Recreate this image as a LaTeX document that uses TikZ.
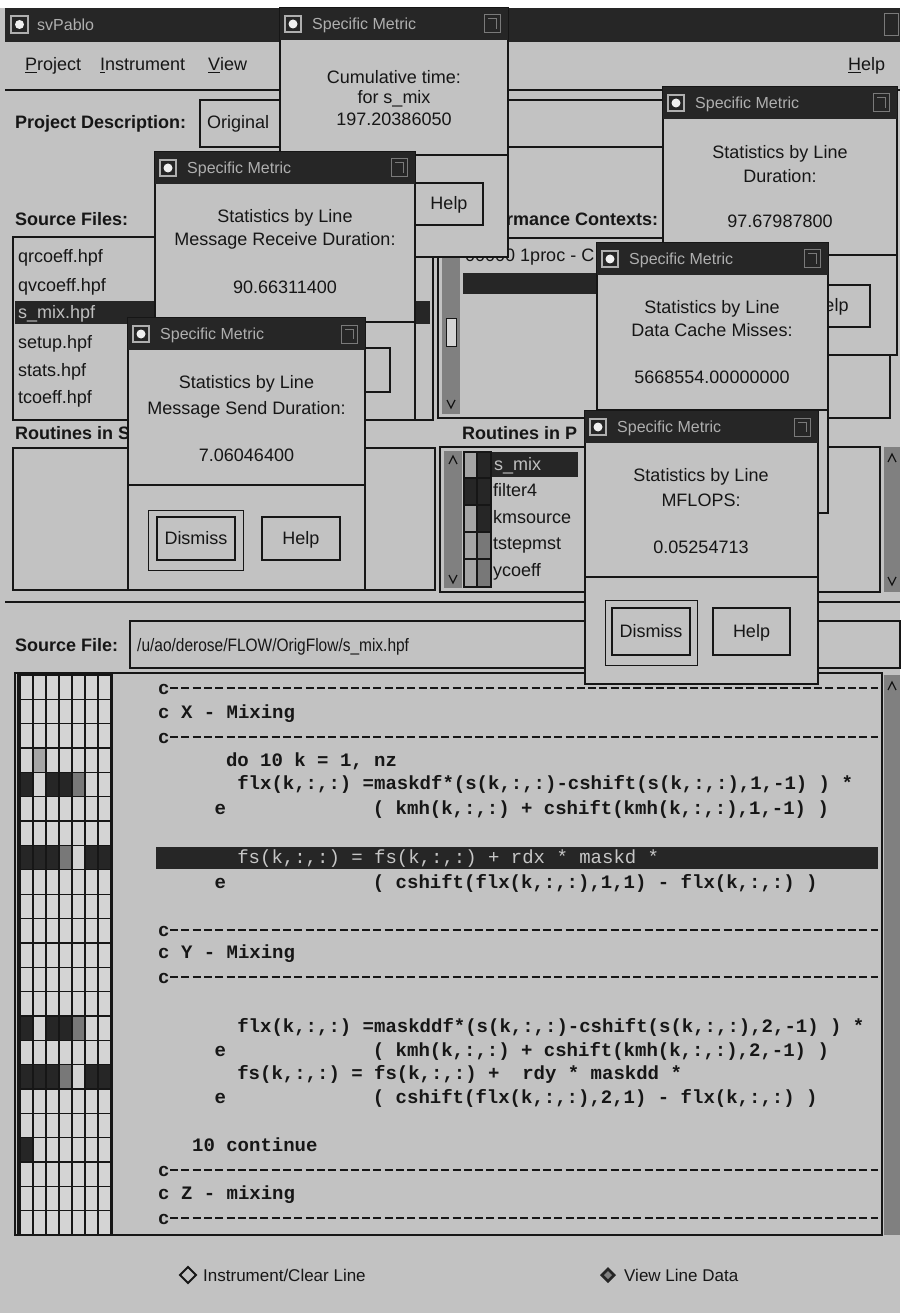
\documentclass[tikz,border=0pt]{standalone}
\usepackage{fontspec}
\setmainfont{Liberation Sans}
\setmonofont{Liberation Mono}
\newfontfamily\uinarrow[FakeStretch=0.86]{Liberation Sans}
\definecolor{bg}{RGB}{194,194,194}
\definecolor{bgl}{RGB}{212,212,212}
\definecolor{tb}{RGB}{38,38,38}
\definecolor{ink}{RGB}{22,22,22}
\definecolor{ttl}{RGB}{175,175,175}
\definecolor{sb}{RGB}{128,128,128}
\definecolor{midg}{RGB}{120,120,120}
\definecolor{lightg}{RGB}{165,165,165}

\tikzset{
  ui/.style={font=\fontsize{18}{20}\selectfont, text=ink, inner sep=0pt},
  lbl/.style={font=\fontsize{18}{20}\selectfont\bfseries, text=ink, inner sep=0pt, anchor=base west},
  code/.style={font=\fontsize{19}{21}\selectfont\ttfamily\bfseries, text=ink, inner sep=0pt, anchor=base west},
  faint/.style={font=\fontsize{19}{21}\selectfont\ttfamily, text=gray!45, inner sep=0pt, anchor=base west},
  bx/.style={draw=ink, line width=2pt},
  winbox/.style={draw=ink, line width=2pt, fill=bg},
  tbar/.style={fill=tb},
  ttltext/.style={font=\fontsize{16}{18}\selectfont, text=ttl, inner sep=0pt, anchor=west},
  selbar/.style={fill=tb},
  seltext/.style={font=\fontsize{18}{20}\selectfont, text=gray!50, inner sep=0pt, anchor=base west},
  btnbox/.style={draw=ink, line width=2.2pt},
  dashln/.style={draw=ink, line width=1.8pt, dash pattern=on 8pt off 3.3pt},
  cellbox/.style={draw=ink, line width=1.3pt},
}

% Specific Metric window: #1 name, #2 x1, #3 y1, #4 x2, #5 y2, #6 separator y
\newcommand{\SMwin}[6]{%
  \draw[winbox] (#2,#3) rectangle (#4,#5);
  \fill[tbar] (#2,#3) rectangle (#4,#3+32);
  \draw[ttl, line width=1.2pt] (#2+5,#3+8) rectangle (#2+21,#3+24);
  \fill[white!88!gray] (#2+13,#3+16) circle (4.5pt);
  \node[ttltext] (#1t) at (#2+32,#3+17) {Specific Metric};
  \draw[ttl!70!black, line width=1pt] (#4-24,#3+7) rectangle (#4-8,#3+25);
  \draw[ttl!70!black, line width=1pt] (#4-20,#3+11) -- (#4-12,#3+11) -- (#4-12,#3+21);
  \draw[ink, line width=2pt] (#2,#6) -- (#4,#6);
}
% button: #1 name, #2 x1, #3 y1, #4 x2, #5 y2, #6 text
\newcommand{\UIbtn}[6]{%
  \draw[btnbox] (#2,#3) rectangle (#4,#5);
  \node[ui, anchor=base] (#1) at ({(#2+#4)/2},{(#3+#5)/2+6}) {#6};
}
% default button frame
\newcommand{\DefFrame}[4]{%
  \draw[ink, line width=1pt] (#1,#2) rectangle (#3,#4);
}
% grid cell: #1 row, #2 col, #3 colour
\newcommand{\GridCell}[3]{%
  \draw[cellbox, fill=#3] ({20+13*#2},{675+24.35*#1}) rectangle ++(13,24.35);
}

\begin{document}
\begin{tikzpicture}[x=1pt,y=-1pt]
\useasboundingbox (0,0) rectangle (900,1313);
\fill[white] (0,0) rectangle (900,1313);
\fill[bg] (0,8) rectangle (900,1313);

% ---------- main window title bar ----------
\fill[tbar] (5,8) rectangle (900,42);
\draw[ttl, line width=1.2pt] (11,16) rectangle (28,33);
\fill[white!88!gray] (19.5,24.5) circle (4.5pt);
\node[ttltext] (apptitle) at (37,25) {svPablo};
\draw[ttl!70!black, line width=1pt] (884,14) rectangle (898,36);

% ---------- menu ----------
\node[ui, anchor=base west] (mproj) at (25,71) {\underline{P}roject};
\node[ui, anchor=base west] (minst) at (100,71) {\underline{I}nstrument};
\node[ui, anchor=base west] (mview) at (208,71) {\underline{V}iew};
\node[ui, anchor=base west] (mhelp) at (848,71) {\underline{H}elp};
\draw[ink, line width=2.5pt] (5,90) -- (900,90);

% ---------- project description ----------
\node[lbl] (pdl) at (15,129) {Project Description:};
\draw[bx] (200,100) rectangle (890,147);
\node[ui, anchor=base west] (pdv) at (207,129) {Original};

% ---------- source files ----------
\node[lbl] (sfl) at (15,226) {Source Files:};
\draw[bx] (13,237) rectangle (433,420);
\node[ui, anchor=base west] (f1) at (18,263) {qrcoeff.hpf};
\node[ui, anchor=base west] (f2) at (18,291) {qvcoeff.hpf};
\fill[selbar] (15,301) rectangle (430,324);
\node[seltext] (f3) at (18,319) {s\_mix.hpf};
\node[ui, anchor=base west] (f4) at (18,348) {setup.hpf};
\node[ui, anchor=base west] (f5) at (18,376) {stats.hpf};
\node[ui, anchor=base west] (f6) at (18,403) {tcoeff.hpf};

% ---------- performance contexts ----------
\node[lbl] (pcl) at (460,226) {Performance Contexts:};
\draw[bx] (438,238) rectangle (890,418);
\fill[sb] (442,242) rectangle (460,414);
\draw[ink, line width=1pt, fill=bgl] (446,318) rectangle (456,346);
\draw[ink, line width=1.2pt] (447,400) -- (451,408) -- (455,400);
\node[ui, anchor=base west] (pc1) at (465,262) {00000 1proc - C};
\fill[selbar] (463,273) rectangle (600,294);

% ---------- routines in source file ----------
\node[lbl] (rsl) at (15,439) {Routines in Source File:};
\draw[bx] (13,448) rectangle (435,590);

% ---------- routines in procedure ----------
\node[lbl] (rpl) at (462,439) {Routines in P};
\draw[bx] (440,447) rectangle (880,592);
\fill[sb] (444,451) rectangle (462,588);
\draw[ink, line width=1.2pt] (449,464) -- (453,456) -- (457,464);
\draw[ink, line width=1.2pt] (449,575) -- (453,583) -- (457,575);
% colour cells
\draw[cellbox, fill=lightg] (464,452) rectangle (477,478);
\draw[cellbox, fill=tb] (477,452) rectangle (491,478);
\draw[cellbox, fill=tb] (464,478) rectangle (477,505);
\draw[cellbox, fill=tb] (477,478) rectangle (491,505);
\draw[cellbox, fill=lightg] (464,505) rectangle (477,532);
\draw[cellbox, fill=tb] (477,505) rectangle (491,532);
\draw[cellbox, fill=lightg] (464,532) rectangle (477,559);
\draw[cellbox, fill=midg] (477,532) rectangle (491,559);
\draw[cellbox, fill=lightg] (464,559) rectangle (477,587);
\draw[cellbox, fill=midg] (477,559) rectangle (491,587);
\fill[selbar] (492,452) rectangle (578,477);
\node[seltext] (r1) at (494,470) {s\_mix};
\node[ui, anchor=base west] (r2) at (493,496) {filter4};
\node[ui, anchor=base west] (r3) at (493,523) {kmsource};
\node[ui, anchor=base west] (r4) at (493,549) {tstepmst};
\node[ui, anchor=base west] (r5) at (493,576) {ycoeff};
\fill[sb] (884,447) rectangle (900,592);
\draw[ink, line width=1.2pt] (888,462) -- (892,454) -- (896,462);
\draw[ink, line width=1.2pt] (888,577) -- (892,585) -- (896,577);

\draw[ink, line width=2pt] (5,602) -- (900,602);

% ---------- source file ----------
\node[lbl] (srcl) at (15,651) {Source File:};
\draw[bx] (130,621) rectangle (900,668);
\node[ui, anchor=base west, font=\fontsize{18}{20}\selectfont\uinarrow] (srcv) at (137,651) {/u/ao/derose/FLOW/OrigFlow/s\_mix.hpf};

% ---------- source display ----------
\draw[ink, line width=2.5pt, fill=bg] (15,673) rectangle (882,1235);
\fill[sb] (884,675) rectangle (900,1235);
\draw[ink, line width=1.2pt] (888,690) -- (892,682) -- (896,690);
\foreach \r in {0,...,22}{
  \foreach \c in {0,...,6}{
    \GridCell{\r}{\c}{bgl}
  }
}
\GridCell{3}{1}{lightg}
\GridCell{4}{0}{tb}\GridCell{4}{2}{tb}\GridCell{4}{3}{tb}\GridCell{4}{4}{midg}
\GridCell{7}{0}{tb}\GridCell{7}{1}{tb}\GridCell{7}{2}{tb}\GridCell{7}{3}{midg}\GridCell{7}{5}{tb}\GridCell{7}{6}{tb}
\GridCell{14}{0}{tb}\GridCell{14}{2}{tb}\GridCell{14}{3}{tb}\GridCell{14}{4}{midg}
\GridCell{16}{0}{tb}\GridCell{16}{1}{tb}\GridCell{16}{2}{tb}\GridCell{16}{3}{midg}\GridCell{16}{5}{tb}\GridCell{16}{6}{tb}
\GridCell{19}{0}{tb}
\draw[ink, line width=2.5pt] (18,673) rectangle (112,1235);

% code lines (column n at x = 158 + 11.3 n)
\node[code] (c1) at (158,694) {c};
\draw[dashln] (170,688) -- (878,688);
\node[code] (c2) at (158,718) {c X - Mixing};
\node[code] (c3) at (158,743) {c};
\draw[dashln] (170,737) -- (878,737);
\node[code] (c4) at (225.8,766) {do 10 k = 1, nz};
\node[code] (c5) at (237.1,789) {flx(k,:,:) =maskdf*(s(k,:,:)-cshift(s(k,:,:),1,-1) ) *};
\node[code] (c6e) at (214.5,814) {e};
\node[code] (c6) at (372.7,814) {( kmh(k,:,:) + cshift(kmh(k,:,:),1,-1) )};
\fill[selbar] (156,847) rectangle (878,869);
\node[faint] (c7) at (237.1,863) {fs(k,:,:) = fs(k,:,:) + rdx * maskd *};
\node[code] (c8e) at (214.5,888) {e};
\node[code] (c8) at (372.7,888) {( cshift(flx(k,:,:),1,1) - flx(k,:,:) )};
\node[code] (c9) at (158,936) {c};
\draw[dashln] (170,930) -- (878,930);
\node[code] (c10) at (158,958) {c Y - Mixing};
\node[code] (c11) at (158,983) {c};
\draw[dashln] (170,977) -- (878,977);
\node[code] (c12) at (237.1,1032) {flx(k,:,:) =maskddf*(s(k,:,:)-cshift(s(k,:,:),2,-1) ) *};
\node[code] (c13e) at (214.5,1056) {e};
\node[code] (c13) at (372.7,1056) {( kmh(k,:,:) + cshift(kmh(k,:,:),2,-1) )};
\node[code] (c14) at (237.1,1079) {fs(k,:,:) = fs(k,:,:) +\ \ rdy * maskdd *};
\node[code] (c15e) at (214.5,1103) {e};
\node[code] (c15) at (372.7,1103) {( cshift(flx(k,:,:),2,1) - flx(k,:,:) )};
\node[code] (c16) at (191.9,1151) {10 continue};
\node[code] (c17) at (158,1176) {c};
\draw[dashln] (170,1170) -- (878,1170);
\node[code] (c18) at (158,1199) {c Z - mixing};
\node[code] (c19) at (158,1224) {c};
\draw[dashln] (170,1218) -- (878,1218);

% ---------- bottom radio buttons ----------
\draw[ink, line width=2pt] (180,1275) -- (188,1267) -- (196,1275) -- (188,1283) -- cycle;
\node[ui, anchor=base west, font=\fontsize{17}{19}\selectfont] (rb1) at (203,1281) {Instrument/Clear Line};
\fill[tb] (600,1275) -- (608,1267) -- (616,1275) -- (608,1283) -- cycle;
\fill[gray] (604,1275) -- (608,1271) -- (612,1275) -- (608,1279) -- cycle;
\node[ui, anchor=base west, font=\fontsize{17}{19}\selectfont] (rb2) at (624,1281) {View Line Data};

% ---------- Specific Metric windows (back to front) ----------
% W1 cumulative time
\SMwin{wA}{280}{8}{508}{257}{155}
\node[ui, anchor=base] (wA1) at (394,84) {Cumulative time:};
\node[ui, anchor=base] (wA2) at (394,104) {for s\_mix};
\node[ui, anchor=base] (wA3) at (394,126) {197.20386050};
\UIbtn{wAh}{415}{183}{483}{225}{Help}

% W4 duration
\SMwin{wD}{663}{87}{897}{355}{255}
\node[ui, anchor=base] (wD1) at (780,159) {Statistics by Line};
\node[ui, anchor=base] (wD2) at (780,183) {Duration:};
\node[ui, anchor=base] (wD3) at (780,228) {97.67987800};
\UIbtn{wDh}{790}{285}{870}{327}{Help}

% W2 message receive
\SMwin{wB}{155}{152}{415}{420}{322}
\node[ui, anchor=base] (wB1) at (285,223) {Statistics by Line};
\node[ui, anchor=base] (wB2) at (285,246) {Message Receive Duration:};
\node[ui, anchor=base] (wB3) at (285,294) {90.66311400};
\draw[btnbox] (300,348) rectangle (390,392);

% W3 message send
\SMwin{wC}{128}{318}{365}{590}{485}
\node[ui, anchor=base] (wC1) at (246.5,388) {Statistics by Line};
\node[ui, anchor=base] (wC2) at (246.5,414) {Message Send Duration:};
\node[ui, anchor=base] (wC3) at (246.5,461) {7.06046400};
\DefFrame{148}{510}{243}{570}
\UIbtn{wCd}{157}{517}{235}{560}{Dismiss}
\UIbtn{wCh}{262}{517}{340}{560}{Help}

% W5 data cache misses
\SMwin{wE}{597}{243}{828}{513}{410}
\node[ui, anchor=base] (wE1) at (712,313) {Statistics by Line};
\node[ui, anchor=base] (wE2) at (712,336) {Data Cache Misses:};
\node[ui, anchor=base] (wE3) at (712,383) {5668554.00000000};

% W6 MFLOPS
\SMwin{wF}{585}{411}{818}{684}{577}
\node[ui, anchor=base] (wF1) at (701,481) {Statistics by Line};
\node[ui, anchor=base] (wF2) at (701,506) {MFLOPS:};
\node[ui, anchor=base] (wF3) at (701,553) {0.05254713};
\DefFrame{605}{600}{697}{665}
\UIbtn{wFd}{612}{608}{690}{655}{Dismiss}
\UIbtn{wFh}{713}{608}{790}{655}{Help}
\end{tikzpicture}
\end{document}
